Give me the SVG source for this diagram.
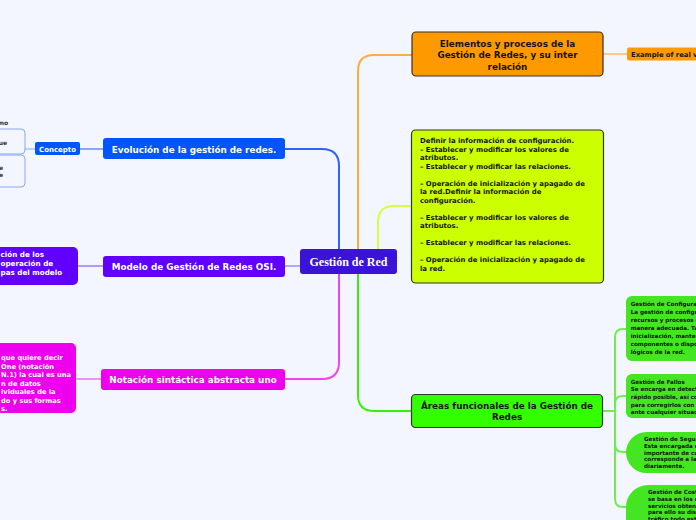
<svg xmlns="http://www.w3.org/2000/svg" width="696" height="520" viewBox="0 0 696 520">
<style>
.t{font-family:"DejaVu Sans",Verdana,sans-serif;font-weight:bold}
.w{fill:#ffffff}
.d{fill:#141414}
.c{fill:none;stroke-linecap:round;stroke-linejoin:round}
.m{font-size:8.8px;text-anchor:middle}
.y{font-size:6.9px}
.g{font-size:5.6px}
.dk{stroke:#333;stroke-width:1.2}
.gb{fill:#44e622}
</style>
<rect x="0" y="0" width="696" height="520" fill="#f3f6fe"/>
<g id="connectors">
<path class="c" d="M339,249 V166 Q339,149 322,149 H285" stroke="#2e62ff" stroke-width="2"/>
<path class="c" d="M339,274 V362 Q339,379 322,379 H285" stroke="#ee44ee" stroke-width="2"/>
<path class="c" d="M285,266 H300" stroke="#a38cff" stroke-width="1.5"/>
<path class="c" d="M358,249 V71 Q358,55 374,55 H412" stroke="#ffad40" stroke-width="2"/>
<path class="c" d="M378,249 V222 Q378,206 394,206 H411" stroke="#d4ff40" stroke-width="2"/>
<path class="c" d="M358,274 V395 Q358,411 374,411 H411" stroke="#38ee10" stroke-width="2"/>
<path class="c" d="M603,54 H627" stroke="#ffbb66" stroke-width="1.5"/>
<path class="c" d="M103,149 H80" stroke="#6b8cff" stroke-width="1.5"/>
<path class="c" d="M35,149 H25" stroke="#8aa6ff" stroke-width="1.2"/>
<path class="c" d="M103,266 H78" stroke="#9b7bff" stroke-width="1.5"/>
<path class="c" d="M101,379 H77" stroke="#f070f0" stroke-width="1.5"/>
<path class="c" d="M603,411 H615" stroke="#6fee4f" stroke-width="2"/>
<path class="c" d="M615,411 V337 Q615,329 623,329 H626" stroke="#6fee4f" stroke-width="2"/>
<path class="c" d="M615,404 Q615,396 623,396 H626" stroke="#6fee4f" stroke-width="2"/>
<path class="c" d="M615,411 V444 Q615,452 623,452 H628" stroke="#6fee4f" stroke-width="2"/>
<path class="c" d="M615,444 V499 Q615,507 623,507 H630" stroke="#6fee4f" stroke-width="2"/>
</g>
<g id="concepto-children">
<rect x="-20" y="129" width="45" height="25" rx="4" fill="none" stroke="#8aa6ff" stroke-width="1"/>
<rect x="-20" y="155" width="45" height="32" rx="4" fill="none" stroke="#8aa6ff" stroke-width="1"/>
<text class="t" x="8" y="125" font-size="6" fill="#333" text-anchor="end">mo</text>
<text class="t" x="7" y="145" font-size="6" fill="#333" text-anchor="end">ue</text>
<text class="t" x="3" y="170" font-size="6" fill="#333" text-anchor="end">e</text>
<text class="t" x="3" y="177" font-size="6" fill="#333" text-anchor="end">e</text>
</g>
<g id="central">
<rect x="300" y="249" width="97" height="25" rx="3" fill="#3a12d8"/>
<text x="348.5" y="265.5" font-family="'Liberation Serif',Georgia,serif" font-weight="bold" font-size="12" fill="#fff" text-anchor="middle">Gestión de Red</text>
</g>
<g id="evolucion">
<rect x="103" y="138" width="182" height="21" rx="3" fill="#0055ff"/>
<text class="t m w" x="194" y="152.5">Evolución de la gestión de redes.</text>
</g>
<g id="concepto">
<rect x="35" y="142" width="45" height="13" rx="2" fill="#0055ff"/>
<text class="t w" x="57.5" y="151.5" font-size="7" text-anchor="middle">Concepto</text>
</g>
<g id="modelo">
<rect x="103" y="256" width="182" height="21" rx="3" fill="#6000ff"/>
<text class="t m w" x="194" y="269.5">Modelo de Gestión de Redes OSI.</text>
</g>
<g id="modelo-child">
<rect x="-10" y="247" width="88" height="38" rx="5" fill="#6000ff"/>
<text class="t w" font-size="7.2"><tspan x="0.5" y="256.5">ción de los</tspan><tspan x="0.5" y="265.5">operación de</tspan><tspan x="0.5" y="274.5">pas del modelo</tspan></text>
</g>
<g id="notacion">
<rect x="101" y="369" width="184" height="21" rx="3" fill="#ee00ee"/>
<text class="t m w" x="193" y="382.7">Notación sintáctica abstracta uno</text>
</g>
<g id="notacion-child">
<rect x="-10" y="343" width="86" height="70" rx="5" fill="#ee00ee"/>
<text class="t w" font-size="6.7"><tspan x="1" y="360.3">que quiere decir</tspan><tspan x="1" y="368.8">One (notación</tspan><tspan x="1" y="377.3">N.1) la cual es una</tspan><tspan x="1" y="385.8">n de datos</tspan><tspan x="1" y="394.3">ividuales de la</tspan><tspan x="1" y="402.8">do y sus formas</tspan><tspan x="1" y="411.3">s.</tspan></text>
</g>
<g id="elementos">
<rect x="412" y="32" width="191" height="44" rx="4" fill="#ff9900" class="dk"/>
<text class="t m d"><tspan x="507.5" y="46.5">Elementos y procesos de la</tspan><tspan x="507.5" y="58">Gestión de Redes, y su inter</tspan><tspan x="507.5" y="69.5">relación</tspan></text>
</g>
<g id="example">
<rect x="627" y="47.5" width="80" height="13" rx="2" fill="#ff9900"/>
<text class="t d" x="631" y="56.8" font-size="6.8">Example of real v</text>
</g>
<g id="configuracion">
<rect x="411.5" y="130" width="192" height="153" rx="4" fill="#ccff00" class="dk"/>
<text class="t y d"><tspan x="420" y="143">Definir la información de configuración.</tspan><tspan x="420" y="151.5">– Establecer y modificar los valores de</tspan><tspan x="420" y="160">atributos.</tspan><tspan x="420" y="168.5">– Establecer y modificar las relaciones.</tspan><tspan x="420" y="185.5">– Operación de inicialización y apagado de</tspan><tspan x="420" y="194">la red.Definir la información de</tspan><tspan x="420" y="202.5">configuración.</tspan><tspan x="420" y="219.5">– Establecer y modificar los valores de</tspan><tspan x="420" y="228">atributos.</tspan><tspan x="420" y="245">– Establecer y modificar las relaciones.</tspan><tspan x="420" y="262">– Operación de inicialización y apagado de</tspan><tspan x="420" y="270.5">la red.</tspan></text>
</g>
<g id="areas">
<rect x="411.5" y="394.5" width="191" height="33" rx="4" fill="#33ff00" class="dk"/>
<text class="t m d"><tspan x="507" y="408.8">Áreas funcionales de la Gestión de</tspan><tspan x="507" y="419.8">Redes</tspan></text>
</g>
<g id="gestion-configuracion">
<rect x="626" y="296" width="90" height="65" rx="6" class="gb"/>
<text class="t g d"><tspan x="630.7" y="306.2">Gestión de Configura-</tspan><tspan x="630.7" y="314.1">La gestión de configu</tspan><tspan x="630.7" y="322.1">recursos y procesos c</tspan><tspan x="630.7" y="330">manera adecuada. Ta</tspan><tspan x="630.7" y="338">inicialización, manten</tspan><tspan x="630.7" y="345.9">componentes o dispo</tspan><tspan x="630.7" y="353.9">lógicos de la red.</tspan></text>
</g>
<g id="gestion-fallos">
<rect x="626" y="374" width="90" height="44" rx="6" class="gb"/>
<text class="t g d"><tspan x="630.7" y="383.8">Gestión de Fallos</tspan><tspan x="630.7" y="391.4">Se encarga en detect</tspan><tspan x="630.7" y="399">rápido posible, así co</tspan><tspan x="630.7" y="406.6">para corregirlos con e</tspan><tspan x="630.7" y="414.2">ante cualquier situaci</tspan></text>
</g>
<g id="gestion-seguridad">
<rect x="626" y="432" width="110" height="41" rx="20.5" class="gb"/>
<text class="t g d"><tspan x="644" y="441">Gestión de Segur</tspan><tspan x="644" y="447.8">Esta encargada c</tspan><tspan x="644" y="454.6">importante de cu</tspan><tspan x="644" y="461.4">corresponde a la</tspan><tspan x="644" y="468.2">diariamente.</tspan></text>
</g>
<g id="gestion-costes">
<rect x="626" y="485" width="110" height="60" rx="22" class="gb"/>
<text class="t g d"><tspan x="648" y="494">Gestión de Cost</tspan><tspan x="648" y="500.8">se basa en los r</tspan><tspan x="648" y="507.6">servicios obteni</tspan><tspan x="648" y="514.4">para ello su dist</tspan><tspan x="648" y="521.2">tráfico todo est</tspan></text>
</g>
</svg>
